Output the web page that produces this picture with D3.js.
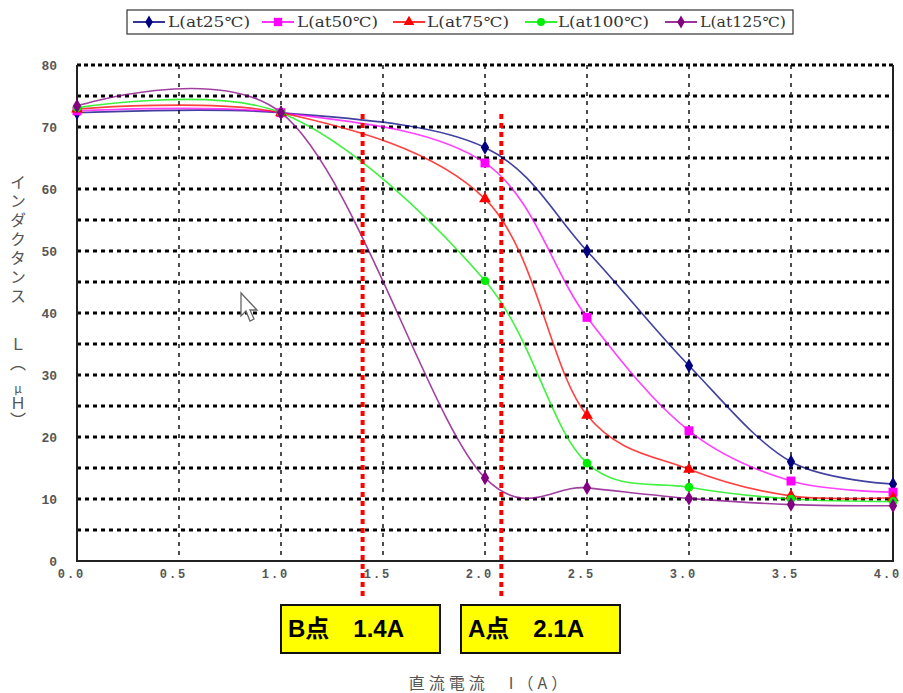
<!DOCTYPE html>
<html><head><meta charset="utf-8">
<script src="https://cdn.jsdelivr.net/npm/d3@7"></script>
<style>html,body{margin:0;padding:0;background:#fff;}svg{display:block;}</style>
</head><body>
<script>
const currents = [0, 1.0, 2.0, 2.5, 3.0, 3.5, 4.0];
const seriesNames = ["L(at25℃)", "L(at50℃)", "L(at75℃)", "L(at100℃)", "L(at125℃)"];
const L25  = [72.3, 72.3, 66.7, 50.0, 31.5, 16.0, 12.4];
const L50  = [72.6, 72.3, 64.2, 39.3, 21.0, 12.9, 11.1];
const L75  = [72.9, 72.3, 58.4, 23.5, 14.8, 10.5, 10.2];
const L100 = [73.1, 72.3, 45.2, 15.8, 11.9, 10.0, 9.6];
const L125 = [73.4, 72.3, 13.4, 11.8, 10.1, 9.1, 8.9];
const colors = ["#000080", "#ff00ff", "#ff0000", "#00ee00", "#800080"];
const symbols = ["diamond", "square", "triangle", "circle", "diamond"];
const xTicks = [0, 0.5, 1.0, 1.5, 2.0, 2.5, 3.0, 3.5, 4.0];
const yTicks = [0, 10, 20, 30, 40, 50, 60, 70, 80];
const yGrid = [5, 10, 15, 20, 25, 30, 35, 40, 45, 50, 55, 60, 65, 70, 75];
const markLines = [1.4, 2.08];
const markLabels = ["B点　1.4A", "A点　2.1A"];
const yTitleParts = ["インダクタンス", "Ｌ（", "μ", "Ｈ）"];
const xTitle = "直流電流　I（A）";

const W = 903, H = 693;
const svg = d3.select("body").append("svg").attr("width", W).attr("height", H);
const x = d3.scaleLinear().domain([0, 4]).range([77, 893]);
const y = d3.scaleLinear().domain([0, 80]).range([561, 65]);

// grid
svg.append("g").selectAll("line").data(yGrid).join("line")
  .attr("x1", x(0)).attr("x2", x(4)).attr("y1", d => y(d)).attr("y2", d => y(d))
  .attr("stroke", "#000").attr("stroke-width", 3).attr("stroke-dasharray", "4,4");
svg.append("g").selectAll("line").data(xTicks.slice(1, -1)).join("line")
  .attr("x1", d => x(d)).attr("x2", d => x(d)).attr("y1", y(80)).attr("y2", y(0))
  .attr("stroke", "#222").attr("stroke-width", 1.6).attr("stroke-dasharray", "4,5");
svg.append("line").attr("x1", x(0)).attr("x2", x(4)).attr("y1", y(80)).attr("y2", y(80))
  .attr("stroke", "#000").attr("stroke-width", 3).attr("stroke-dasharray", "4,3");
svg.append("path").attr("d", `M${x(0)},${y(80)}V${y(0)}H${x(4)}V${y(80)}`)
  .attr("fill", "none").attr("stroke", "#222").attr("stroke-width", 2);

// axes labels
const xAxis = d3.axisBottom(x).tickValues(xTicks).tickFormat(d3.format(".1f")).tickSize(0).tickPadding(8);
const gx = svg.append("g").attr("transform", `translate(0,${y(0)})`).call(xAxis);
gx.select(".domain").remove();
gx.selectAll("text").attr("font-family", "Liberation Mono, monospace").attr("font-weight", "bold")
  .attr("font-size", 12).attr("fill", "#555").attr("letter-spacing", 2).attr("dx", -6);
const yAxis = d3.axisLeft(y).tickValues(yTicks).tickSize(0).tickPadding(20);
const gy = svg.append("g").attr("transform", `translate(${x(0)},0)`).call(yAxis);
gy.select(".domain").remove();
gy.selectAll("text").attr("font-family", "Liberation Mono, monospace").attr("font-weight", "bold")
  .attr("font-size", 13).attr("fill", "#555");

// curves
const allSeries = [L25, L50, L75, L100, L125];
const line = d3.line().x((d, i) => x(currents[i])).y(d => y(d)).curve(d3.curveCatmullRom.alpha(0.2));
const symType = {diamond: d3.symbolDiamond, square: d3.symbolSquare, triangle: d3.symbolTriangle, circle: d3.symbolCircle};
allSeries.forEach((s, k) => {
  svg.append("path").datum(s).attr("d", line).attr("fill", "none")
    .attr("stroke", colors[k]).attr("stroke-width", 1.6).attr("stroke-opacity", 0.75);
});
allSeries.forEach((s, k) => {
  svg.append("g").selectAll("path").data(s).join("path")
    .attr("transform", (d, i) => `translate(${x(currents[i])},${y(d)})`)
    .attr("d", d3.symbol().type(symType[symbols[k]]).size(symbols[k] === "square" ? 80 : 60))
    .attr("fill", colors[k]);
});

// red dotted marker lines
svg.append("g").selectAll("line").data(markLines).join("line")
  .attr("x1", d => x(d)).attr("x2", d => x(d)).attr("y1", 114).attr("y2", 600)
  .attr("stroke", "#ff0000").attr("stroke-width", 4).attr("stroke-dasharray", "5,4");

// yellow boxes
const boxX = [281, 461];
markLabels.forEach((t, i) => {
  svg.append("rect").attr("x", boxX[i]).attr("y", 605).attr("width", 159).attr("height", 48)
    .attr("fill", "#ffff00").attr("stroke", "#111").attr("stroke-width", 2);
  svg.append("text").attr("x", boxX[i] + 7).attr("y", 637).text(t)
    .attr("font-family", "Liberation Sans, Noto Sans CJK JP, sans-serif").attr("font-weight", "bold")
    .attr("font-size", 24).attr("fill", "#000");
});

// x title
svg.append("text").attr("x", 490).attr("y", 689).attr("text-anchor", "middle").text(xTitle)
  .attr("font-family", "Noto Sans CJK JP, sans-serif").attr("font-size", 16).attr("letter-spacing", 4).attr("fill", "#555");

// y title (vertical)
const vt = (txt, yy, ls) => svg.append("text").attr("x", 18).attr("y", yy).text(txt)
  .style("writing-mode", "vertical-rl")
  .attr("font-family", "Noto Sans CJK JP, sans-serif").attr("font-size", 16).attr("letter-spacing", ls).attr("fill", "#555");
vt(yTitleParts[0], 174, 3);
vt(yTitleParts[1], 336, 3);
svg.append("text").attr("x", 18).attr("y", 393).attr("text-anchor", "middle").text(yTitleParts[2])
  .attr("font-family", "Noto Sans CJK JP, sans-serif").attr("font-size", 12).attr("fill", "#555");
vt(yTitleParts[3], 395, 1);

// legend
svg.append("rect").attr("x", 127).attr("y", 10).attr("width", 666).attr("height", 24)
  .attr("fill", "#fff").attr("stroke", "#333").attr("stroke-width", 1.2);
const legLine = [133, 262, 393, 525, 665];
const legText = [168, 297, 427, 558, 700];
const legW = [82, 81, 82, 91, 86];
seriesNames.forEach((n, k) => {
  svg.append("line").attr("x1", legLine[k]).attr("x2", legLine[k] + 32).attr("y1", 22).attr("y2", 22)
    .attr("stroke", colors[k]).attr("stroke-width", 1.6);
  svg.append("path").attr("transform", `translate(${legLine[k] + 16},22)`)
    .attr("d", d3.symbol().type(symType[symbols[k]]).size(symbols[k] === "square" ? 70 : 50)).attr("fill", colors[k]);
  svg.append("text").attr("x", legText[k]).attr("y", 27).text(n)
    .attr("font-family", "DejaVu Serif, serif").attr("font-size", 14).attr("fill", "#333")
    .attr("textLength", legW[k]).attr("lengthAdjust", "spacingAndGlyphs");
});

// mouse cursor artifact
svg.append("path").attr("d", "M241,293L241,316L246,311L250,321L254,319L250,310L257,310Z")
  .attr("fill", "#fff").attr("stroke", "#666").attr("stroke-width", 1.3);
</script>
</body></html>
